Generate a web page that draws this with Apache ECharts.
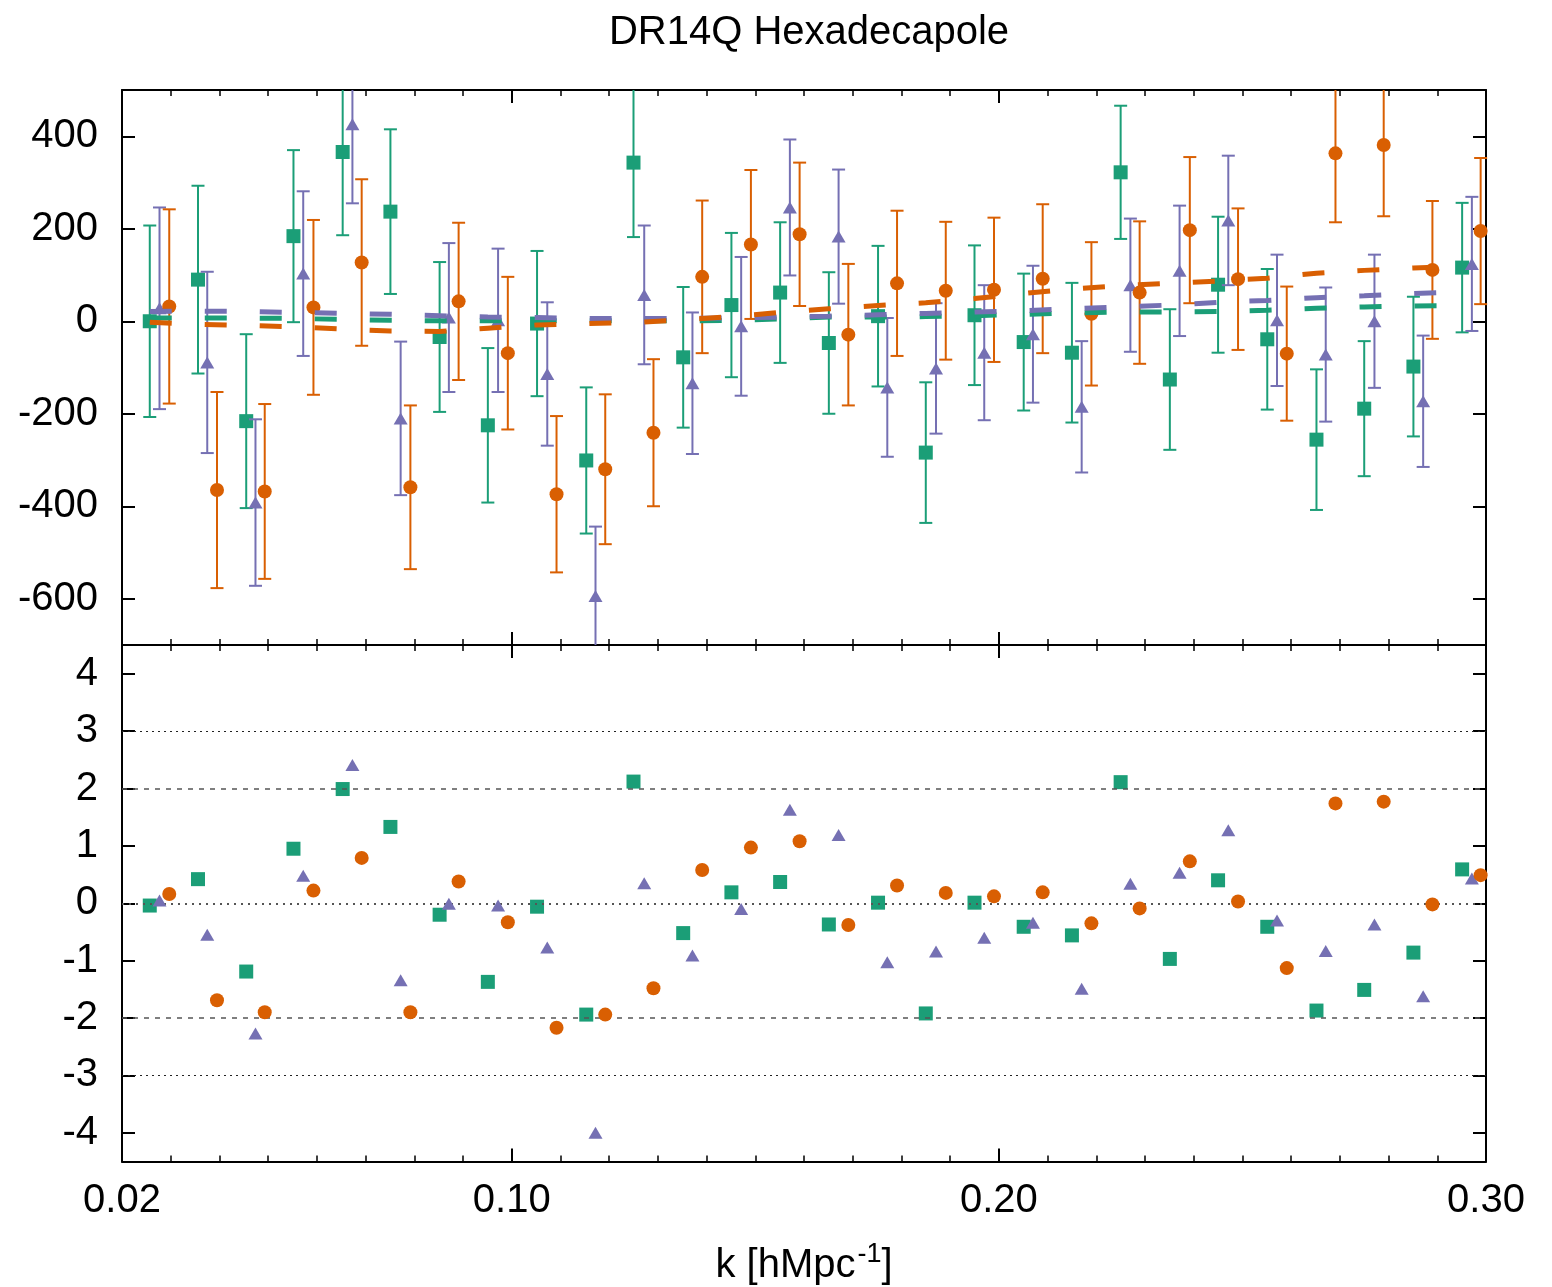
<!DOCTYPE html>
<html>
<head>
<meta charset="utf-8">
<script src="https://cdn.jsdelivr.net/npm/echarts@6/dist/echarts.min.js"></script>
<style>
html,body{margin:0;padding:0;background:#fff;}
#chart{width:1552px;height:1287px;}
</style>
</head>
<body>
<div id="chart"></div>
<script>
// ---------------- data ----------------
const titleText = 'DR14Q Hexadecapole';

const kGreen  = [0.0257,0.0356,0.0455,0.0552,0.0653,0.0751,0.0852,0.0951,0.1052,0.1153,0.1250,0.1352,0.1451,0.1551,0.1651,0.1752,0.1850,0.1950,0.2051,0.2150,0.2250,0.2351,0.2450,0.2551,0.2652,0.2750,0.2851,0.2951];
const kPurple = [0.0277,0.0375,0.0474,0.0572,0.0673,0.0772,0.0871,0.0972,0.1073,0.1172,0.1272,0.1371,0.1471,0.1571,0.1671,0.1771,0.1871,0.1970,0.2070,0.2170,0.2270,0.2371,0.2471,0.2571,0.2671,0.2771,0.2871,0.2971];
const kOrange = [0.0297,0.0395,0.0493,0.0593,0.0692,0.0792,0.0891,0.0992,0.1092,0.1192,0.1291,0.1391,0.1491,0.1591,0.1691,0.1791,0.1891,0.1990,0.2090,0.2190,0.2289,0.2392,0.2491,0.2591,0.2691,0.2790,0.2890,0.2989];

const pGreen  = [0, 90, -216, 184, 366, 237, -34, -225, -5, -301, 343, -78, 35, 62, -47, 11, -284, 13, -45, -68, 322, -126, 79, -39, -256, -189, -98, 116];
const eGreen  = [207, 203, 188, 186, 180, 178, 162, 167, 157, 158, 161, 152, 156, 152, 153, 152, 152, 151, 148, 151, 144, 152, 147, 152, 152, 146, 151, 140];

const pPurple = [28, -89, -392, 103, 426, -210, 8, 2, -114, -594, 57, -134, -11, 246, 183, -143, -102, -68, -28, -185, 78, 109, 218, 2, -72, 0, -173, 124];
const ePurple = [218, 196, 180, 178, 171, 166, 161, 155, 155, 150, 150, 153, 150, 147, 145, 150, 141, 146, 148, 142, 144, 141, 140, 142, 145, 144, 142, 145];

const pOrange = [32, -365, -368, 30, 127, -359, 43, -69, -374, -320, -241, 96, 166, 188, -29, 82, 66, 68, 92, 16, 62, 197, 91, -70, 363, 381, 111, 195];
const eOrange = [210, 212, 189, 189, 180, 177, 170, 165, 169, 162, 159, 165, 161, 155, 153, 157, 149, 156, 161, 155, 154, 158, 153, 145, 149, 154, 149, 158];

// model curves, sampled at kGreen
const mGreen  = [7, 7, 7, 6, 4, 2, 1, 1, 1, 1, 1, 1, 2, 5, 9, 9, 10, 12, 15, 18, 20, 20, 21, 24, 28, 31, 33, 34];
const mPurple = [21, 22, 21, 19, 17, 15, 12, 9, 8, 6, 6, 6, 7, 9, 11, 14, 17, 20, 23, 27, 31, 35, 41, 45, 51, 55, 60, 63];
const mOrange = [-2, -7, -9, -12, -17, -21, -22, -15, -8, -5, -3, 3, 10, 19, 27, 34, 40, 49, 60, 70, 77, 82, 87, 93, 104, 110, 115, 119];

// residuals (lower panel)
const resGreen  = [-0.04, 0.42, -1.19, 0.95, 1.99, 1.33, -0.20, -1.37, -0.06, -1.94, 2.12, -0.52, 0.19, 0.37, -0.37, 0.01, -1.92, 0.01, -0.41, -0.56, 2.11, -0.97, 0.40, -0.41, -1.87, -1.51, -0.86, 0.59];
const resPurple = [0.05, -0.55, -2.27, 0.48, 2.41, -1.34, -0.01, -0.04, -0.77, -4.00, 0.35, -0.91, -0.10, 1.63, 1.19, -1.03, -0.84, -0.60, -0.34, -1.49, 0.34, 0.53, 1.27, -0.30, -0.83, -0.37, -1.62, 0.43];
const resOrange = [0.16, -1.69, -1.90, 0.22, 0.79, -1.90, 0.38, -0.33, -2.17, -1.94, -1.48, 0.58, 0.97, 1.08, -0.38, 0.31, 0.18, 0.12, 0.19, -0.35, -0.09, 0.73, 0.03, -1.13, 1.74, 1.77, -0.02, 0.49];

// axes ticks / labels
const xLabelValues = [0.02, 0.10, 0.20, 0.30];
const xMajorTicks  = [0.10, 0.20];
const xMinorTicks  = [0.03,0.04,0.05,0.06,0.07,0.08,0.09,0.11,0.12,0.13,0.14,0.15,0.16,0.17,0.18,0.19,0.21,0.22,0.23,0.24,0.25,0.26,0.27,0.28,0.29];
const yTopTicks    = [-600, -400, -200, 0, 200, 400];
const yBotTicks    = [-4, -3, -2, -1, 0, 1, 2, 3, 4];
const dottedLevels = [3, -3];
const dashedLevels = [2, -2];
const zeroLevel    = [0];

// ---------------- styling ----------------
const C_GREEN = '#1b9e77', C_ORANGE = '#d95f02', C_PURPLE = '#7570b3';
const FONT = 'Liberation Sans, Arial, Helvetica, sans-serif';
const FS = 40;

const chart = echarts.init(document.getElementById('chart'), null, {renderer: 'canvas'});

function zip(a, b) { return a.map((v, i) => [v, b[i]]); }
function errData(k, v, e) { return k.map((x, i) => [x, v[i] - e[i], v[i] + e[i]]); }

function errRender(color) {
  return function (params, api) {
    const x = api.value(0), lo = api.value(1), hi = api.value(2);
    const pLo = api.coord([x, lo]);
    const pHi = api.coord([x, hi]);
    const cs = params.coordSys;
    const top = cs.y, bottom = cs.y + cs.height;
    const y1 = Math.max(pHi[1], top), y2 = Math.min(pLo[1], bottom);
    const st = {stroke: color, lineWidth: 2};
    const half = 6.5;
    const ch = [{type: 'line', shape: {x1: pLo[0], y1: y1, x2: pLo[0], y2: y2}, style: st}];
    if (pHi[1] >= top) ch.push({type: 'line', shape: {x1: pHi[0] - half, y1: pHi[1], x2: pHi[0] + half, y2: pHi[1]}, style: st});
    if (pLo[1] <= bottom) ch.push({type: 'line', shape: {x1: pLo[0] - half, y1: pLo[1], x2: pLo[0] + half, y2: pLo[1]}, style: st});
    return {type: 'group', children: ch};
  };
}

function xAxesFor(gridIndex, withLabels) {
  const base = {
    type: 'value', gridIndex: gridIndex, min: 0.02, max: 0.30,
    splitLine: {show: false}
  };
  const line = {show: true, onZero: false, lineStyle: {color: '#000', width: 2}};
  const arr = [];
  ['bottom', 'top'].forEach(pos => {
    arr.push(Object.assign({}, base, {
      position: pos,
      axisLine: line,
      axisTick: {show: true, inside: true, length: 13, customValues: xMajorTicks, lineStyle: {color: '#000', width: 2}},
      axisLabel: (withLabels && pos === 'bottom') ? {
        show: true, customValues: xLabelValues, margin: 19, color: '#000',
        fontSize: FS, fontFamily: FONT, formatter: v => v.toFixed(2)
      } : {show: false},
      name: (withLabels && pos === 'bottom') ? 'k [hMpc{sup|-1}]' : '',
      nameLocation: 'middle', nameGap: 80,
      nameTextStyle: {
        fontSize: FS, fontFamily: FONT, color: '#000',
        rich: {sup: {fontSize: 27, fontFamily: FONT, color: '#000', padding: [0, 0, 22, 2]}}
      }
    }));
    arr.push(Object.assign({}, base, {
      position: pos,
      axisLine: {show: false, onZero: false},
      axisTick: {show: true, inside: true, length: 6, customValues: xMinorTicks, lineStyle: {color: '#000', width: 1.5}},
      axisLabel: {show: false}
    }));
  });
  return arr;
}

function yAxesFor(gridIndex, min, max, ticks) {
  const line = {show: true, onZero: false, lineStyle: {color: '#000', width: 2}};
  return ['left', 'right'].map(pos => ({
    type: 'value', gridIndex: gridIndex, position: pos, min: min, max: max,
    splitLine: {show: false},
    axisLine: line,
    axisTick: {show: true, inside: true, length: 13, customValues: ticks, lineStyle: {color: '#000', width: 2}},
    axisLabel: pos === 'left' ? {show: true, customValues: ticks, margin: 24, color: '#000', fontSize: FS, fontFamily: FONT} : {show: false}
  }));
}

const xAxes = xAxesFor(0, false).concat(xAxesFor(1, true)); // top grid: 0..3 ; bottom grid: 4..7
const yAxes = yAxesFor(0, -700, 500, yTopTicks).concat(yAxesFor(1, -4.5, 4.5, yBotTicks)); // 0,1 ; 2,3

function errSeries(k, v, e, color, z) {
  return {type: 'custom', xAxisIndex: 0, yAxisIndex: 0, renderItem: errRender(color),
    data: errData(k, v, e), z: z, silent: true, encode: {x: 0, y: [1, 2]}};
}
function ptSeries(k, v, color, symbol, size, xi, yi, z) {
  return {type: 'scatter', xAxisIndex: xi, yAxisIndex: yi, data: zip(k, v), symbol: symbol,
    symbolSize: size, itemStyle: {color: color, opacity: 1}, z: z, silent: true};
}
function modelSeries(v, color, z) {
  return {type: 'line', xAxisIndex: 0, yAxisIndex: 0, data: zip(kGreen, v), showSymbol: false,
    symbol: 'none', lineStyle: {color: color, width: 5, type: [22, 33], cap: 'butt'}, z: z, silent: true};
}

function levelLines(levels, style) {
  return levels.map(l => ({yAxis: l, lineStyle: style}));
}

const option = {
  animation: false,
  backgroundColor: '#fff',
  title: {
    text: titleText, left: 804, top: 8, textAlign: 'center',
    textStyle: {fontSize: FS, fontWeight: 'normal', fontFamily: FONT, color: '#000'}
  },
  grid: [
    {left: 122, top: 90, width: 1364, height: 555},
    {left: 122, top: 645, width: 1364, height: 517}
  ],
  xAxis: xAxes,
  yAxis: yAxes,
  series: [
    errSeries(kGreen, pGreen, eGreen, C_GREEN, 2),
    ptSeries(kGreen, pGreen, C_GREEN, 'rect', 14, 0, 0, 3),
    errSeries(kPurple, pPurple, ePurple, C_PURPLE, 4),
    ptSeries(kPurple, pPurple, C_PURPLE, 'triangle', [14, 12], 0, 0, 5),
    errSeries(kOrange, pOrange, eOrange, C_ORANGE, 6),
    ptSeries(kOrange, pOrange, C_ORANGE, 'circle', 14, 0, 0, 7),
    modelSeries(mGreen, C_GREEN, 8),
    modelSeries(mPurple, C_PURPLE, 9),
    modelSeries(mOrange, C_ORANGE, 10),
    {
      type: 'line', xAxisIndex: 4, yAxisIndex: 2, data: [], z: 1, silent: true,
      markLine: {
        silent: true, symbol: ['none', 'none'], label: {show: false}, animation: false,
        data: [].concat(
          levelLines(dottedLevels, {type: [2, 4], color: '#222', width: 1}),
          levelLines(dashedLevels, {type: [5, 6], color: '#555', width: 1.5}),
          levelLines(zeroLevel, {type: [2, 5], color: '#555', width: 2})
        )
      }
    },
    ptSeries(kGreen, resGreen, C_GREEN, 'rect', 14, 4, 2, 3),
    ptSeries(kPurple, resPurple, C_PURPLE, 'triangle', [14, 12], 4, 2, 5),
    ptSeries(kOrange, resOrange, C_ORANGE, 'circle', 14, 4, 2, 7)
  ]
};

chart.setOption(option);
</script>
</body>
</html>
